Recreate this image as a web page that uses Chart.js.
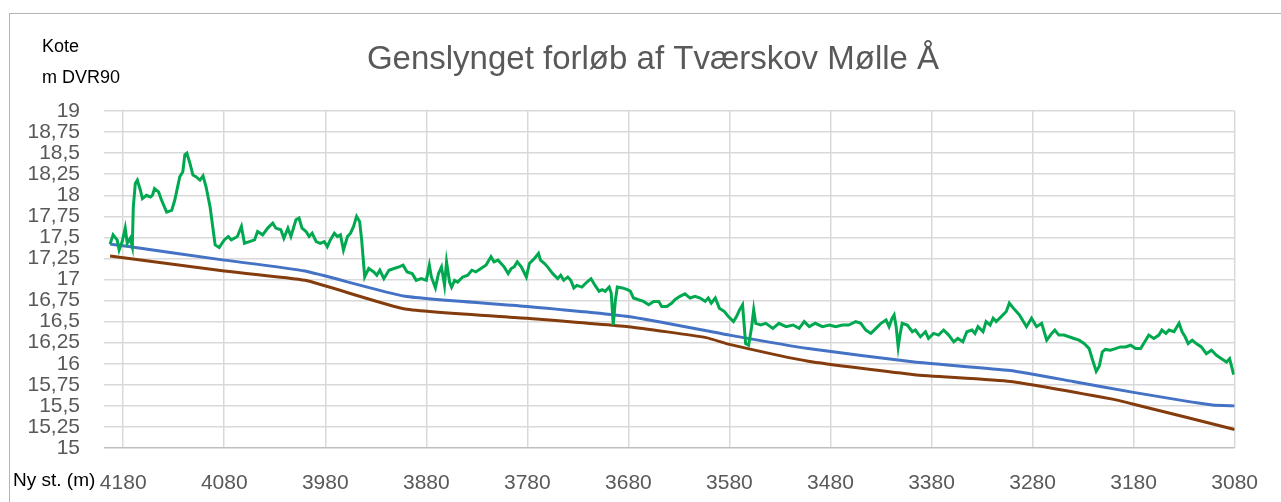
<!DOCTYPE html>
<html><head><meta charset="utf-8">
<script src="https://cdn.jsdelivr.net/npm/chart.js@4/dist/chart.umd.min.js"></script>
<style>
html,body{margin:0;padding:0;background:#fff;overflow:hidden;width:1281px;height:502px}
#frame{position:absolute;left:9px;top:13px;width:1320px;height:620px;border:1px solid #b4b4b4;box-sizing:border-box}
#wrap{position:absolute;left:0;top:0;width:1281px;height:502px}
</style></head><body>
<div id="frame"></div>
<div id="wrap"><canvas id="c" width="1281" height="502"></canvas></div>
<script>
const chartTitle = 'Genslynget forløb af Tværskov Mølle Å';
const yAxisTitleLines = ['Kote', 'm DVR90'];
const xAxisTitle = 'Ny st. (m)';
const stationTicks = [4180, 4080, 3980, 3880, 3780, 3680, 3580, 3480, 3380, 3280, 3180, 3080];
const levelTicks = [15, 15.25, 15.5, 15.75, 16, 16.25, 16.5, 16.75, 17, 17.25, 17.5, 17.75, 18, 18.25, 18.5, 18.75, 19];

// [station, level]
const terrainLine = [
[4193,17.42],[4190,17.53],[4186,17.47],[4184,17.35],[4181,17.45],[4178,17.61],[4176,17.43],[4173,17.49],[4171,17.39],[4170,17.86],
[4168,18.14],[4166,18.18],[4163,18.06],[4161,17.96],[4157,18.00],[4153,17.98],[4151,18.00],[4149,18.08],[4145,18.04],[4142,17.94],
[4137,17.80],[4132,17.82],[4129,17.94],[4124,18.22],[4121,18.28],[4119,18.48],[4117,18.50],[4114,18.38],[4111,18.24],[4108,18.22],
[4104,18.18],[4101,18.23],[4098,18.10],[4094,17.86],[4091,17.59],[4089,17.41],[4085,17.38],[4080,17.47],[4076,17.51],[4073,17.47],
[4070,17.49],[4067,17.51],[4063,17.63],[4060,17.43],[4055,17.45],[4050,17.47],[4047,17.57],[4042,17.53],[4037,17.61],[4032,17.67],
[4029,17.61],[4024,17.59],[4021,17.49],[4017,17.61],[4014,17.51],[4009,17.71],[4006,17.73],[4003,17.61],[3999,17.57],[3996,17.51],
[3993,17.55],[3989,17.45],[3985,17.43],[3981,17.45],[3978,17.39],[3975,17.47],[3971,17.55],[3968,17.51],[3965,17.53],[3962,17.35],
[3958,17.51],[3955,17.55],[3952,17.63],[3949,17.75],[3946,17.69],[3944,17.47],[3941,17.03],[3937,17.13],[3932,17.09],[3929,17.05],
[3926,17.11],[3922,17.01],[3917,17.11],[3912,17.13],[3907,17.15],[3903,17.17],[3899,17.09],[3894,17.07],[3890,16.99],[3885,17.01],
[3880,16.99],[3877,17.17],[3875,17.03],[3871,16.90],[3868,17.07],[3865,17.15],[3862,16.93],[3860,17.21],[3857,16.97],[3855,16.91],
[3852,16.99],[3849,16.97],[3844,17.03],[3839,17.05],[3835,17.11],[3831,17.09],[3826,17.13],[3821,17.17],[3816,17.27],[3813,17.21],
[3809,17.23],[3806,17.19],[3803,17.15],[3799,17.07],[3796,17.13],[3793,17.15],[3790,17.21],[3786,17.15],[3781,17.03],[3778,17.19],
[3773,17.25],[3769,17.31],[3767,17.23],[3763,17.19],[3760,17.15],[3755,17.07],[3750,17.01],[3747,17.05],[3744,16.99],[3740,17.03],
[3737,16.99],[3734,16.90],[3731,16.93],[3726,16.91],[3721,16.97],[3717,17.01],[3713,16.93],[3709,16.86],[3706,16.88],[3703,16.86],
[3699,16.91],[3697,16.84],[3695,16.46],[3693,16.74],[3691,16.91],[3686,16.90],[3681,16.88],[3678,16.86],[3675,16.78],[3670,16.76],
[3665,16.74],[3660,16.70],[3655,16.74],[3650,16.74],[3647,16.68],[3642,16.68],[3637,16.72],[3634,16.76],[3629,16.80],[3624,16.83],
[3619,16.78],[3614,16.80],[3609,16.78],[3604,16.74],[3601,16.78],[3598,16.72],[3594,16.78],[3590,16.66],[3585,16.62],[3581,16.56],
[3576,16.50],[3573,16.56],[3570,16.64],[3567,16.70],[3564,16.24],[3561,16.22],[3558,16.44],[3556,16.64],[3554,16.48],[3549,16.46],
[3544,16.48],[3537,16.42],[3531,16.48],[3524,16.44],[3517,16.46],[3511,16.42],[3506,16.50],[3501,16.44],[3495,16.48],[3488,16.44],
[3481,16.46],[3475,16.44],[3468,16.46],[3462,16.46],[3455,16.50],[3450,16.48],[3445,16.40],[3440,16.36],[3435,16.42],[3430,16.48],
[3425,16.52],[3422,16.44],[3419,16.54],[3417,16.58],[3415,16.44],[3413,16.20],[3411,16.36],[3409,16.48],[3404,16.46],[3399,16.38],
[3396,16.40],[3391,16.32],[3386,16.38],[3383,16.30],[3378,16.36],[3373,16.34],[3368,16.40],[3363,16.34],[3358,16.26],[3354,16.30],
[3349,16.26],[3345,16.38],[3340,16.40],[3337,16.36],[3334,16.44],[3329,16.38],[3326,16.50],[3322,16.46],[3319,16.54],[3316,16.50],
[3311,16.56],[3306,16.62],[3303,16.72],[3299,16.66],[3296,16.62],[3293,16.58],[3290,16.52],[3286,16.44],[3281,16.54],[3276,16.44],
[3271,16.48],[3266,16.28],[3261,16.36],[3258,16.40],[3254,16.34],[3249,16.34],[3244,16.32],[3239,16.30],[3234,16.28],[3229,16.24],
[3224,16.18],[3221,16.06],[3217,15.91],[3214,15.97],[3211,16.14],[3208,16.17],[3203,16.16],[3198,16.18],[3193,16.20],[3188,16.20],
[3183,16.22],[3178,16.18],[3173,16.18],[3170,16.24],[3165,16.34],[3160,16.30],[3155,16.34],[3152,16.40],[3148,16.36],[3145,16.40],
[3140,16.38],[3135,16.48],[3132,16.38],[3129,16.32],[3126,16.24],[3122,16.28],[3118,16.24],[3113,16.20],[3108,16.12],[3103,16.16],
[3098,16.10],[3093,16.06],[3088,16.02],[3085,16.06],[3083,15.97],[3081,15.87]
];
const blueLine = [
[4193,17.42],[4180,17.40],[4080,17.23],[4000,17.10],[3901,16.80],[3780,16.68],[3680,16.56],[3580,16.34],[3502,16.18],
[3397,16.02],[3302,15.92],[3240,15.79],[3180,15.66],[3102,15.51],[3080,15.50]
];
const brownLine = [
[4193,17.28],[4080,17.10],[4000,16.99],[3901,16.65],[3780,16.54],[3680,16.44],[3603,16.31],[3580,16.23],[3502,16.03],
[3397,15.87],[3302,15.79],[3201,15.58],[3180,15.52],[3080,15.22]
];

const toXY = arr => arr.map(p => ({x: p[0], y: p[1]}));
const tickFont = {family: 'Liberation Sans', size: 21};
const tickColor = '#595959';

const textPlugin = {
  id: 'texts',
  afterDraw(chart) {
    const ctx = chart.ctx;
    ctx.save();
    ctx.textBaseline = 'middle';
    ctx.fillStyle = '#595959';
    ctx.font = '33px "Liberation Sans"';
    ctx.textAlign = 'center';
    ctx.fillText(chartTitle, 653, 60);
    ctx.fillStyle = '#000';
    ctx.font = '18px "Liberation Sans"';
    ctx.textAlign = 'left';
    ctx.fillText(yAxisTitleLines[0], 42, 47);
    ctx.fillText(yAxisTitleLines[1], 42, 78);
    ctx.font = '19px "Liberation Sans"';
    ctx.fillText(xAxisTitle, 13, 481);
    ctx.restore();
  }
};

new Chart(document.getElementById('c'), {
  type: 'line',
  data: {
    datasets: [
      {data: toXY(terrainLine), borderColor: '#00A94F', borderWidth: 3, pointRadius: 0, tension: 0, order: 1},
      {data: toXY(blueLine), borderColor: '#4472C4', borderWidth: 3, pointRadius: 0, tension: 0.15, order: 2},
      {data: toXY(brownLine), borderColor: '#843C0C', borderWidth: 3, pointRadius: 0, tension: 0.15, order: 3}
    ]
  },
  options: {
    responsive: false,
    animation: false,
    devicePixelRatio: 1,
    layout: {padding: {top: 111, right: 40, bottom: 0, left: 0}},
    plugins: {legend: {display: false}, tooltip: {enabled: false}, title: {display: false}},
    scales: {
      x: {
        type: 'linear', reverse: true, min: 3080, max: 4199,
        afterBuildTicks: s => { s.ticks = stationTicks.map(v => ({value: v})); },
        afterFit: s => { s.height = 54; },
        ticks: {color: tickColor, font: tickFont, padding: 23, maxRotation: 0, autoSkip: false, callback: v => String(v)},
        grid: {color: '#d9d9d9', lineWidth: 1.5, drawTicks: false},
        border: {display: false}
      },
      y: {
        type: 'linear', min: 15, max: 19,
        afterBuildTicks: s => { s.ticks = levelTicks.map(v => ({value: v})); },
        afterFit: s => { s.width = 104; },
        ticks: {color: tickColor, font: tickFont, padding: 24, autoSkip: false, callback: v => String(v).replace('.', ',')},
        grid: {color: ctx => (ctx.tick && ctx.tick.value === 15 ? '#bfbfbf' : '#d9d9d9'), lineWidth: 1.5, drawTicks: false},
        border: {display: false}
      }
    }
  },
  plugins: [textPlugin]
});
</script>
</body></html>
